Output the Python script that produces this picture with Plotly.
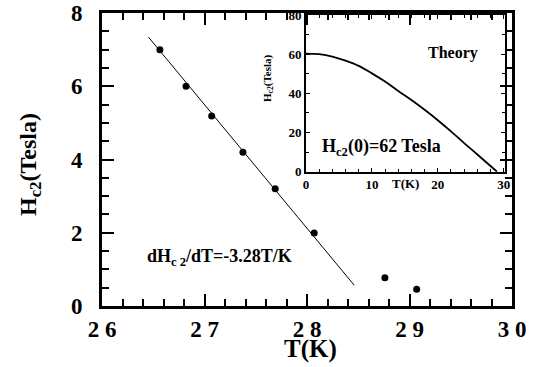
import plotly.graph_objects as go

# Main data
T_data = [26.565, 26.82, 27.07, 27.375, 27.69, 28.07, 28.76, 29.07]
H_data = [7.0, 6.0, 5.19, 4.2, 3.2, 1.99, 0.77, 0.46]
T_fit = [26.454, 28.46]
H_fit = [7.34, 0.57]
x_tick_alias = {"26": "2 6", "27": "2 7", "28": "2 8", "29": "2 9", "30": "3 0"}

# Inset theory curve
T_theory = [0, 2, 4, 6, 8, 10, 12, 14, 16, 18, 20, 22, 24, 26, 28, 29]
H_theory = [60.3, 60.0, 58.8, 56.7, 54.0, 50.2, 46.0, 41.2, 36.6, 31.6, 26.3, 20.6, 14.6, 8.8, 2.9, 0.0]

SERIF = "Liberation Serif"
L, R, Tp, B = 102, 512, 13, 306
W, H = 547, 367


def px2paper(px, py):
    return (px - L) / (R - L), (B - py) / (B - Tp)


fig = go.Figure()
fig.add_trace(go.Scatter(x=T_fit, y=H_fit, mode="lines",
                         line=dict(color="black", width=1), showlegend=False))
fig.add_trace(go.Scatter(x=T_data, y=H_data, mode="markers",
                         marker=dict(color="black", size=7), showlegend=False))
fig.add_trace(go.Scatter(x=T_theory, y=H_theory, mode="lines", xaxis="x2", yaxis="y2",
                         line=dict(color="black", width=1.8, shape="spline"), showlegend=False))

common_main = dict(ticks="inside", ticklen=12, tickwidth=2, tickcolor="black",
                   showline=True, linewidth=3, linecolor="black", mirror="ticks",
                   showgrid=False, zeroline=False, automargin=False,
                   tickfont=dict(family=SERIF, size=23, color="black", weight="bold"))
common_inset = dict(ticks="inside", ticklen=4, tickwidth=1, tickcolor="black",
                    showline=True, linewidth=2, linecolor="black", mirror="ticks",
                    showgrid=False, zeroline=False,
                    tickfont=dict(family=SERIF, size=13, color="black", weight="bold"))

fig.update_layout(
    width=W, height=H,
    margin=dict(l=L, r=W - R, t=Tp, b=H - B, autoexpand=False),
    paper_bgcolor="white", plot_bgcolor="rgba(0,0,0,0)",
    font=dict(family=SERIF, color="black"),
    xaxis=dict(range=[26, 30], tickmode="linear", tick0=26, dtick=1, labelalias=x_tick_alias,
               minor=dict(dtick=0.2, ticks="inside", ticklen=7, tickwidth=1.5, tickcolor="black"),
               ticklabelstandoff=0, **common_main),
    yaxis=dict(range=[0, 8], tickmode="linear", tick0=0, dtick=2,
               minor=dict(dtick=0.5, ticks="inside", ticklen=7, tickwidth=1.5, tickcolor="black"),
               ticklabelstandoff=12, **common_main),
    xaxis2=dict(domain=[(306 - L) / (R - L), (505 - L) / (R - L)], anchor="y2", range=[0, 30.2],
                tickmode="linear", tick0=0, dtick=10,
                minor=dict(dtick=2, ticks="inside", ticklen=3, tickwidth=1, tickcolor="black"),
                **common_inset),
    yaxis2=dict(domain=[(B - 171.7) / (B - Tp), (B - 15) / (B - Tp)], anchor="x2", range=[0, 80],
                tickmode="linear", tick0=0, dtick=20,
                minor=dict(dtick=10, ticks="inside", ticklen=3, tickwidth=1, tickcolor="black"),
                **common_inset),
)

texts = [
    ("<b>T(K)</b>", 310, 349, 25, 0),
    ("<b>H<sub>c2</sub>(Tesla)</b>", 30, 165, 24, -90),
    ("<b>dH<sub>c 2</sub>/dT=-3.28T/K</b>", 219, 257, 18, 0),
    ("<b>Theory</b>", 453, 53, 16, 0),
    ("<b>H<sub>c2</sub>(0)=62 Tesla</b>", 381, 147, 18, 0),
    ("<b>T(K)</b>", 405, 183, 13, 0),
    ("<b>H<sub>c2</sub>(Tesla)</b>", 268, 78, 11, -90),
]
for txt, px, py, size, ang in texts:
    ax_, ay_ = px2paper(px, py)
    fig.add_annotation(text=txt, x=ax_, y=ay_, xref="paper", yref="paper",
                       showarrow=False, textangle=ang, xanchor="center", yanchor="middle",
                       font=dict(family=SERIF, size=size, color="black"))

fig.write_html("out.html", post_script="document.body.style.margin='0px';",
               config={"displayModeBar": False})
